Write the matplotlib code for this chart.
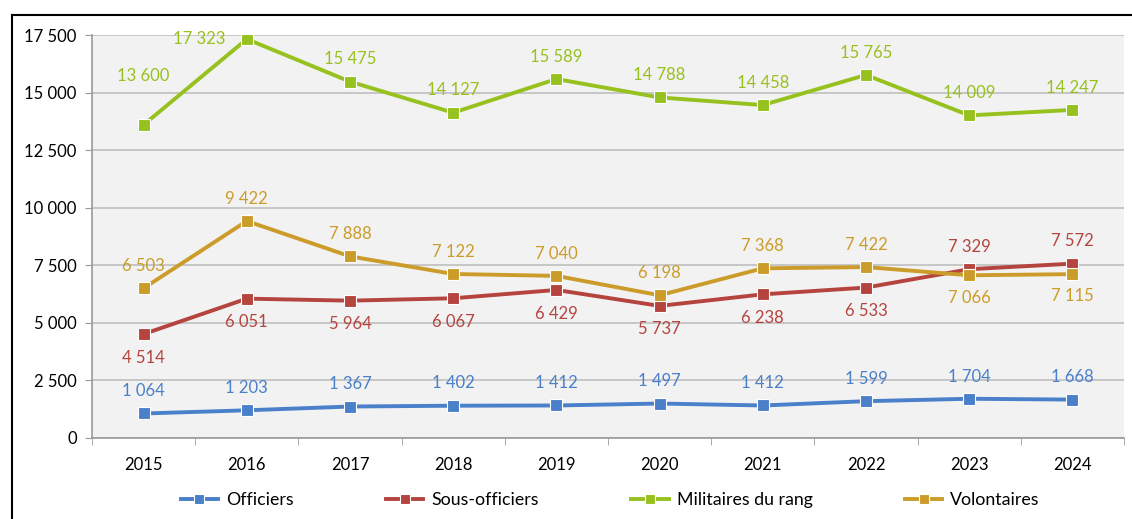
import matplotlib
matplotlib.use("Agg")
import matplotlib.pyplot as plt
from matplotlib.lines import Line2D
from matplotlib.ticker import FixedLocator, FuncFormatter

years = ["2015", "2016", "2017", "2018", "2019", "2020", "2021", "2022", "2023", "2024"]
officiers = [1064, 1203, 1367, 1402, 1412, 1497, 1412, 1599, 1704, 1668]
sous_officiers = [4514, 6051, 5964, 6067, 6429, 5737, 6238, 6533, 7329, 7572]
militaires = [13600, 17323, 15475, 14127, 15589, 14788, 14458, 15765, 14009, 14247]
volontaires = [6503, 9422, 7888, 7122, 7040, 6198, 7368, 7422, 7066, 7115]

# décalage des étiquettes (points) : positif au-dessus, négatif en dessous
pos_off = [(0, 16)] * 10
pos_sous = [(0, -17)] * 8 + [(0, 16)] * 2
pos_mil = [(0, 35), (-34, 0)] + [(0, 16)] * 8
pos_vol = [(0, 16)] * 8 + [(0, -16)] * 2


def fmt(v):
    return f"{v:,}".replace(",", " ")


plt.rcParams["font.family"] = ["Lato", "DejaVu Sans"]

fig = plt.figure(figsize=(11.32, 5.19), dpi=100)
ax = fig.add_axes([92 / 1132, 1 - 438 / 519, (1124 - 92) / 1132, (438 - 35) / 519])
ax.set_facecolor("#f2f2f2")

series = [
    ("Officiers", officiers, "#4a7fc9", pos_off),
    ("Sous-officiers", sous_officiers, "#b5443f", pos_sous),
    ("Militaires du rang", militaires, "#97c11f", pos_mil),
    ("Volontaires", volontaires, "#cc9c2a", pos_vol),
]
x = list(range(len(years)))
for name, vals, col, pos in series:
    ax.plot(x, vals, color=col, lw=2.8, marker="s", ms=8, mec="white", mew=0.8,
            label=name, zorder=3)
    for xi, v, off in zip(x, vals, pos):
        ax.annotate(fmt(v), (xi, v), xytext=off, textcoords="offset points",
                    ha="center", va="center", color=col, fontsize=12)

ax.set_xlim(-0.5, 9.5)
ax.set_ylim(0, 17500)
ax.set_yticks(range(0, 17501, 2500))
ax.yaxis.set_major_formatter(FuncFormatter(lambda v, _: fmt(int(v))))
ax.set_xticks(x)
ax.set_xticklabels(years)
ax.xaxis.set_minor_locator(FixedLocator([i - 0.5 for i in range(11)]))
ax.tick_params(axis="x", which="major", length=0, pad=14, labelsize=12)
ax.tick_params(axis="x", which="minor", length=5, color="#999999")
ax.tick_params(axis="y", length=5, color="#999999", labelsize=12, pad=6)
ax.grid(axis="y", color="#bfbfbf", lw=1.2)
ax.set_axisbelow(True)
for s in ["top", "right"]:
    ax.spines[s].set_visible(False)
for s in ["left", "bottom"]:
    ax.spines[s].set_color("#999999")
    ax.spines[s].set_linewidth(1.2)

fig.legend(loc="center", bbox_to_anchor=(0.539, 1 - 500 / 519), ncol=4, frameon=False,
           fontsize=12.8, columnspacing=5.2, handlelength=2.1, handletextpad=0.45,
           markerscale=0.85)

# cadre du graphique
xl, yt = 12 / 1132, 1 - 15 / 519
fig.add_artist(Line2D([xl, xl], [0, yt], color="black", lw=1.5, transform=fig.transFigure))
fig.add_artist(Line2D([xl, 1], [yt, yt], color="black", lw=1.5, transform=fig.transFigure))

fig.savefig("out.png", dpi=100)
